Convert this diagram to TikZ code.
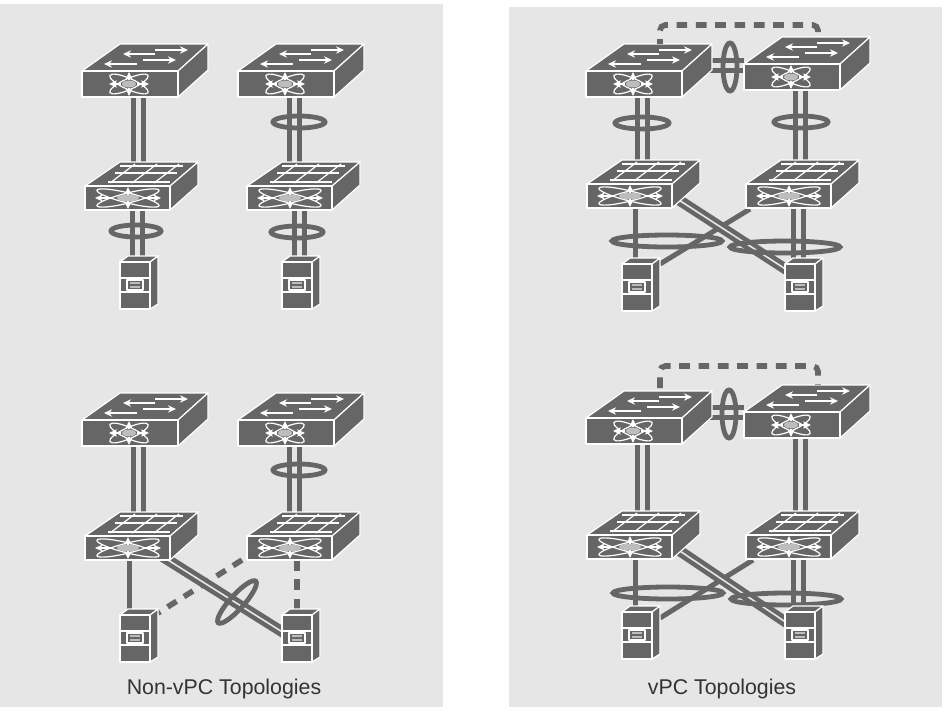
\documentclass[tikz,border=0pt]{standalone}
\usepackage{fontspec}
\setmainfont{Liberation Sans}
\usetikzlibrary{arrows.meta,calc}
\definecolor{panelgray}{HTML}{E6E6E6}
\definecolor{devgray}{HTML}{666666}
\definecolor{hubgray}{HTML}{BDBDBD}
\definecolor{textgray}{HTML}{333333}
\pgfdeclarelayer{panels}
\pgfdeclarelayer{links}
\pgfsetlayers{panels,links,main}
\tikzset{
  edge/.style={draw=white, line width=0.9pt, line join=round},
  body/.style={fill=devgray, edge},
  flow/.style={draw=white, line width=1.1pt, -{Stealth[length=6pt,width=5.5pt]}},
  link/.style={draw=devgray, line width=3.75pt},
  duallink/.style={link, double=panelgray, double distance=3.75pt},
  crosslink/.style={draw=devgray, line width=3.4pt, double=panelgray, double distance=1.2pt},
  dashlink/.style={link, line width=4.2pt, dash pattern=on 8pt off 6.5pt},
  ring/.style={draw=devgray, line width=3.6pt},
  % access switch, origin at the upper left of the front face
  accsw/.pic={
    \path[body] (0,0) -- (38,-27) -- (126,-27) -- (96,0) -- cycle;
    \path[body] (96,0) -- (126,-27) -- (126,-1) -- (96,26) -- cycle;
    \path[body] (0,0) rectangle (96,26);
    \draw[flow] (73,-21) -- (106,-21);
    \draw[flow] (73,-17) -- (41,-17);
    \draw[flow] (61,-11) -- (94,-11);
    \draw[flow] (55,-7) -- (22,-7);
    \foreach \a in {24,-24}
      \draw[edge, rotate around={\a:(47,13)}] (47,13) ellipse [x radius=21, y radius=5.5];
    \fill[hubgray] (47,13) ellipse [x radius=7, y radius=3.5];
    \foreach \dx/\dy in {20/0,-20/0,0/12,0/-12}
      \draw[flow] (47,13) ++(0.4*\dx,0.3*\dy) -- ++(0.6*\dx,0.7*\dy);
    \coordinate (-s) at (56,26);
    \coordinate (-n) at (74,-27);
    \coordinate (-e) at (100,-6);
    \coordinate (-w) at (0,0);
  },
  % aggregation switch, same origin
  aggsw/.pic={
    \path[body] (0,0) -- (35,-24) -- (113,-24) -- (85,0) -- cycle;
    \path[body] (85,0) -- (113,-24) -- (113,-1) -- (85,24) -- cycle;
    \path[body] (0,0) rectangle (85,24);
    \draw[edge] (35,-20) -- (98,-20) (30,-13) -- (92,-13) (23,-4) -- (85,-4);
    \draw[edge] (50,-22) -- (25,-3) (72,-22) -- (47,-3) (94,-22) -- (69,-3);
    \foreach \a in {14,-14}
      \draw[edge, rotate around={\a:(43,12)}] (43,12) ellipse [x radius=32, y radius=5];
    \fill[hubgray] (43,12) ellipse [x radius=11, y radius=3.5];
    \foreach \dx/\dy in {33/0,-33/0,0/11,0/-11}
      \draw[flow] (43,12) ++(0.5*\dx,0.3*\dy) -- ++(0.5*\dx,0.7*\dy);
    \coordinate (-n) at (53,-24);
    \coordinate (-s) at (52,24);
    \coordinate (-sw) at (47,24);
  },
  % server, same origin
  srv/.pic={
    \path[body] (0,0) -- (8,-6) -- (38,-6) -- (30,0) -- cycle;
    \path[body] (30,0) -- (38,-6) -- (38,42) -- (30,47) -- cycle;
    \path[body] (0,0) rectangle (30,47);
    \draw[edge] (0,16) -- (30,16) (0,30) -- (30,30);
    \draw[edge] (7,18) rectangle (23,28);
    \draw[edge, draw=hubgray] (10,21) -- (20,21) (10,25) -- (20,25);
    \coordinate (-n) at (15,-6);
  }
}
\begin{document}
\begin{tikzpicture}[x=0.75pt, y=-0.75pt, every node/.style={font=\fontsize{16pt}{18pt}\selectfont, text=textgray}]
  \useasboundingbox (0,0) rectangle (942,707);
  \begin{pgfonlayer}{panels}
    \fill[panelgray] (0,4) rectangle (443,707);
    \fill[panelgray] (509,7) rectangle (942,707);
  \end{pgfonlayer}
  % devices
  \foreach \nm/\x/\y in {swa/82/71, swb/238/71, swc/82/420, swd/238/420,
      swe/586/71, swf/744/64, swg/586/418, swh/744/412}
    \pic (\nm) at (\x,\y) {accsw};
  \foreach \nm/\x/\y in {aga/85/186, agb/247/186, agc/85/536, agd/247/536,
      age/587/184, agf/746/184, agg/587/535, agh/746/535}
    \pic (\nm) at (\x,\y) {aggsw};
  \foreach \nm/\x/\y in {sra/120/262, srb/282/262, src/120/615, srd/282/615,
      sre/622/264, srf/785/264, srg/622/612, srh/785/612}
    \pic (\nm) at (\x,\y) {srv};
  \begin{pgfonlayer}{links}
    % non-vPC, upper pair
    \draw[duallink] (swa-s) -- (swa-s |- aga-n);
    \draw[duallink] (swb-s) -- (swb-s |- agb-n);
    \draw[duallink] (aga-s) -- (aga-s |- sra-n);
    \draw[duallink] (agb-s) -- (agb-s |- srb-n);
    % non-vPC, lower pair
    \draw[duallink] (swc-s) -- (swc-s |- agc-n);
    \draw[duallink] (swd-s) -- (swd-s |- agd-n);
    \coordinate (sl) at ($(src-n)+(-6,0)$);
    \draw[link] (sl) -- (sl |- agc-s);
    \coordinate (dl) at ($(agd-sw)+(3,0)$);
    \draw[dashlink] (dl) -- (dl |- srd-n);
    \coordinate (da) at (242,560);
    \coordinate (db) at (158,613);
    \draw[dashlink] (da) -- (db);
    \coordinate (xa) at (160,555);
    \coordinate (xb) at (284,633);
    \draw[crosslink] (xa) -- (xb);
    % vPC, upper pair
    \draw[duallink] (swe-s) -- (swe-s |- age-n);
    \draw[duallink] (swf-s) -- (swf-s |- agf-n);
    \draw[duallink] (swe-e) -- (swe-e -| swf-w);
    \coordinate (sm) at ($(age-sw)+(1,0)$);
    \draw[link] (sm) -- (sm |- sre-n);
    \draw[duallink] (agf-s) -- (agf-s |- srf-n);
    \coordinate (ya) at (750,209);
    \coordinate (yb) at (660,264);
    \draw[link] (ya) -- (yb);
    \coordinate (za) at (665,191);
    \coordinate (zb) at (787,270);
    \draw[crosslink] (za) -- (zb);
    % vPC, lower pair
    \draw[duallink] (swg-s) -- (swg-s |- agg-n);
    \draw[duallink] (swh-s) -- (swh-s |- agh-n);
    \coordinate (ge) at (686,412);
    \draw[duallink] (ge) -- (ge -| swh-w);
    \coordinate (sn) at ($(agg-sw)+(1,0)$);
    \draw[link] (sn) -- (sn |- srg-n);
    \draw[duallink] (agh-s) -- (agh-s |- srh-n);
    \coordinate (ua) at (753,560);
    \coordinate (ub) at (660,618);
    \draw[link] (ua) -- (ub);
    \coordinate (va) at (665,541);
    \coordinate (vb) at (787,623);
    \draw[crosslink] (va) -- (vb);
    % bundles
    \foreach \x/\y/\rx/\ry in {136/231/25/6, 299/122/26/6, 297/232/26/6, 299/470/26/6,
        642/123/27/6, 801/122/27/6, 730/67/7/24, 667/241/55/6, 785/247/55/6,
        729/414/7/24, 668/593/55/6, 786/599/55/6}
      \draw[ring] (\x,\y) ellipse [x radius=\rx, y radius=\ry];
    \draw[ring, rotate around={48:(237,602)}] (237,602) ellipse [x radius=28, y radius=7];
  \end{pgfonlayer}
  % peer keepalive
  \coordinate (ka) at (736,25);
  \draw[dashlink, dash phase=4.25pt, rounded corners=4pt] (swe-n) |- (ka) -| (swf-n);
  \coordinate (kb) at (736,366);
  \draw[dashlink, dash phase=12.25pt, rounded corners=4pt] (swg-n) |- (kb) -| (swh-n);
  % captions
  \node[anchor=base] (nonvpc) at (224,694) {Non-vPC Topologies};
  \node[anchor=base] (vpc) at (722,694) {vPC Topologies};
\end{tikzpicture}
\end{document}
